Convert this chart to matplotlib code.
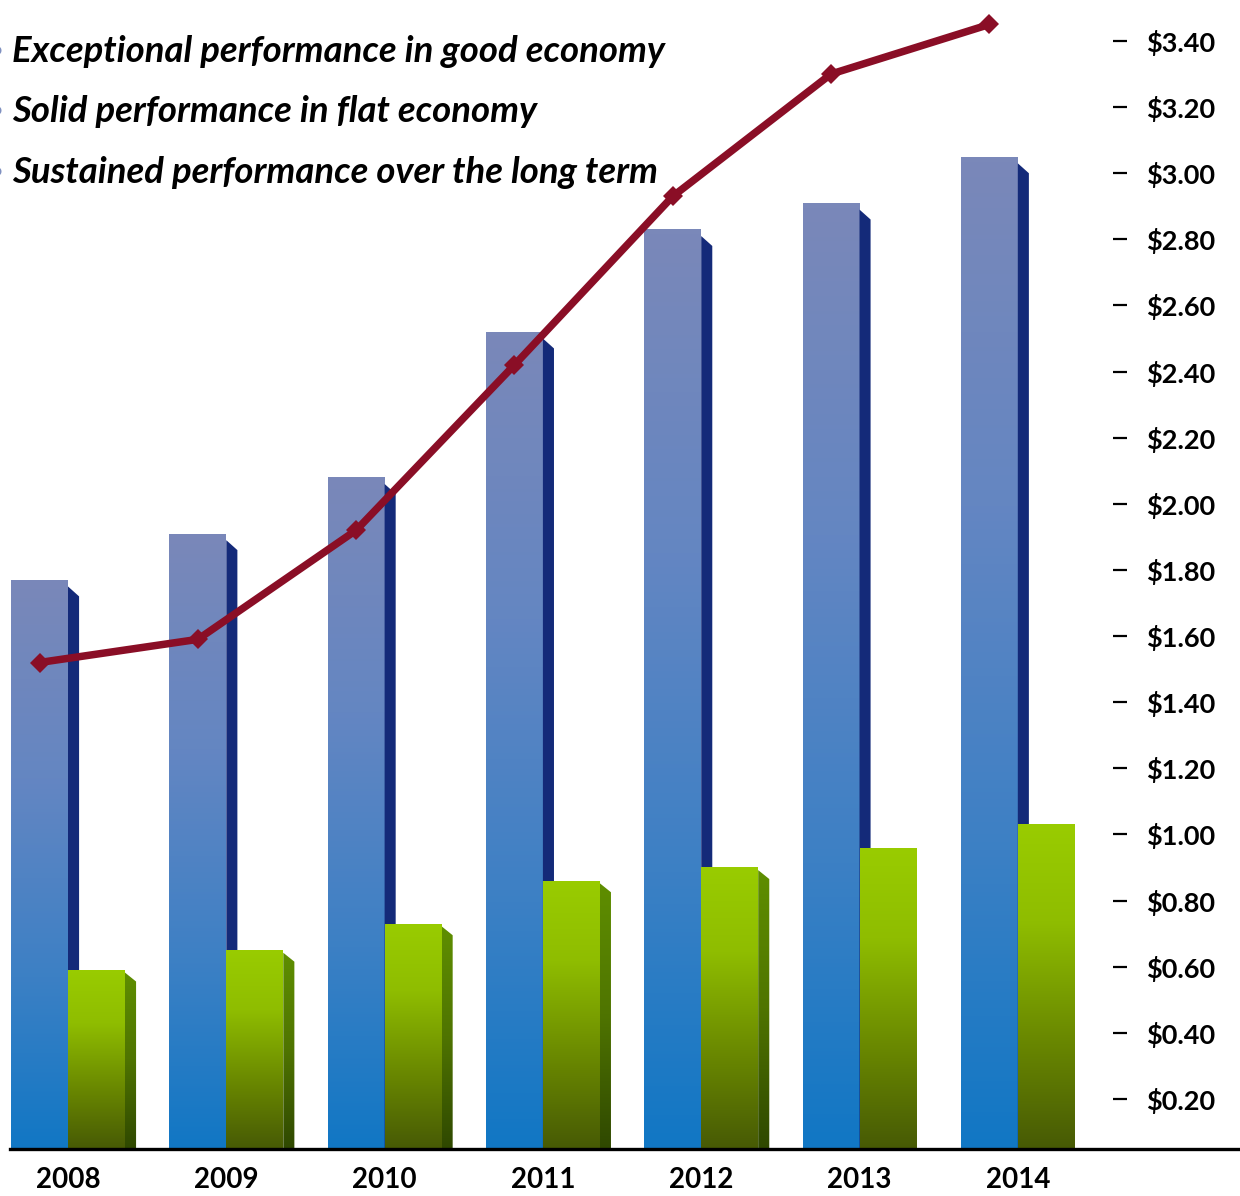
import numpy as np
import matplotlib
matplotlib.use("Agg")
import matplotlib.pyplot as plt
from matplotlib.colors import LinearSegmentedColormap
from matplotlib.patches import Polygon

# ---------------- data ----------------
years = ["2008", "2009", "2010", "2011", "2012", "2013", "2014"]
blue_values = [1.77, 1.91, 2.08, 2.52, 2.83, 2.91, 3.05]
green_values = [0.59, 0.65, 0.73, 0.86, 0.90, 0.96, 1.03]
line_values = [1.52, 1.59, 1.92, 2.42, 2.93, 3.30, 3.45]
tick_values = [0.20, 0.40, 0.60, 0.80, 1.00, 1.20, 1.40, 1.60, 1.80,
               2.00, 2.20, 2.40, 2.60, 2.80, 3.00, 3.20, 3.40]
tick_labels = ["$0.20", "$0.40", "$0.60", "$0.80", "$1.00", "$1.20",
               "$1.40", "$1.60", "$1.80", "$2.00", "$2.20", "$2.40",
               "$2.60", "$2.80", "$3.00", "$3.20", "$3.40"]
bullets = ["Exceptional performance in good economy",
           "Solid performance in flat economy",
           "Sustained performance over the long term"]
green_has_side = [True, True, True, True, True, False, False]

# ---------------- layout ----------------
W, H = 1240, 1196
fig = plt.figure(figsize=(W / 100, H / 100), dpi=100)
fig.patch.set_facecolor("white")

base_px = 1149            # baseline (from top)
ax_left, ax_right = 10, 1240
ax = fig.add_axes([ax_left / W, (H - base_px) / H, (ax_right - ax_left) / W, base_px / H])
ymin, ymax = 0.0484, 3.524
step_px = 158.3
xmin = -(68 - ax_left) / step_px
xmax = xmin + (ax_right - ax_left) / step_px

x = np.arange(len(years))
bw = 0.36
depth = 0.07

blue_cmap = LinearSegmentedColormap.from_list(
    "b", [(0.0, "#7a88b9"), (0.35, "#6486c2"), (0.7, "#3c80c5"), (1.0, "#1177c4")])
green_cmap = LinearSegmentedColormap.from_list(
    "g", [(0.0, "#99cc00"), (0.3, "#8fbd00"), (0.65, "#6b8a00"), (1.0, "#475a05")])
gside_cmap = LinearSegmentedColormap.from_list(
    "gs", [(0.0, "#5f8f00"), (0.5, "#4f7400"), (1.0, "#2f4800")])
grad = np.linspace(0, 1, 256).reshape(-1, 1)

blue_bars = ax.bar(x - bw, blue_values, width=bw, align="edge", color="none",
                   edgecolor="none", zorder=2)
green_bars = ax.bar(x, green_values, width=bw, align="edge", color="none",
                    edgecolor="none", zorder=4)

for rect in blue_bars:
    x0, h, w = rect.get_x(), rect.get_height(), rect.get_width()
    im = ax.imshow(grad, cmap=blue_cmap, extent=[x0, x0 + w, ymin, h],
                   aspect="auto", origin="upper", zorder=2, interpolation="bilinear")
    im.set_clip_path(rect)
    side = Polygon([(x0 + w, 0), (x0 + w, h - 0.02), (x0 + w + depth, h - 0.05),
                    (x0 + w + depth, 0)], closed=True, facecolor="#142a79",
                   edgecolor="none", zorder=2)
    ax.add_patch(side)

for rect, has_side in zip(green_bars, green_has_side):
    x0, h, w = rect.get_x(), rect.get_height(), rect.get_width()
    im = ax.imshow(grad, cmap=green_cmap, extent=[x0, x0 + w, ymin, h],
                   aspect="auto", origin="upper", zorder=4, interpolation="bilinear")
    im.set_clip_path(rect)
    if has_side:
        side = Polygon([(x0 + w, ymin), (x0 + w, h - 0.008), (x0 + w + depth, h - 0.035),
                        (x0 + w + depth, ymin)], closed=True, facecolor="none",
                       edgecolor="none", zorder=3)
        ax.add_patch(side)
        ims = ax.imshow(grad, cmap=gside_cmap, extent=[x0 + w, x0 + w + depth, ymin, h],
                        aspect="auto", origin="upper", zorder=3, interpolation="bilinear")
        ims.set_clip_path(side)

ax.plot(x - bw / 2, line_values, color="#8a0e26", lw=5.4, marker="D",
        markersize=10.5, markeredgewidth=0, zorder=6, solid_capstyle="butt")

ax.set_xlim(xmin, xmax)
ax.set_ylim(ymin, ymax)
for s in ["top", "left", "right"]:
    ax.spines[s].set_visible(False)
ax.spines["bottom"].set_linewidth(2.4)
ax.spines["bottom"].set_color("black")
ax.spines["bottom"].set_zorder(7)
ax.set_yticks([])
ax.set_xticks(x, years)
ax.tick_params(axis="x", length=0, pad=13)
for lab in ax.get_xticklabels():
    lab.set_fontfamily("Lato")
    lab.set_fontweight("bold")
    lab.set_fontsize(20)
ax.patch.set_visible(False)

# right-hand value scale
tick_right_px = 1127
ax2 = fig.add_axes([ax_left / W, (H - base_px) / H, (tick_right_px - ax_left) / W, base_px / H])
ax2.set_ylim(ymin, ymax)
ax2.set_frame_on(False)
ax2.set_xticks([])
ax2.yaxis.tick_right()
ax2.set_yticks(tick_values, tick_labels)
ax2.tick_params(axis="y", direction="in", length=10, width=1.6, pad=14,
                colors="black", left=False)
for lab in ax2.get_yticklabels():
    lab.set_fontfamily("Lato")
    lab.set_fontweight("bold")
    lab.set_fontsize(19.5)

# bullet text
baselines_px = [62, 122, 183]
for txt, bpx in zip(bullets, baselines_px):
    fig.text(12 / W, 1 - bpx / H, txt, fontfamily="Lato", fontweight="bold",
             fontstyle="italic", fontsize=26.3, color="black", va="baseline", ha="left")
    fig.text(-4 / W, 1 - bpx / H, "\u2022", fontfamily="DejaVu Sans", fontsize=22,
             color="#7f90c0", va="baseline", ha="center")

fig.savefig("out.png", dpi=100, facecolor="white")
